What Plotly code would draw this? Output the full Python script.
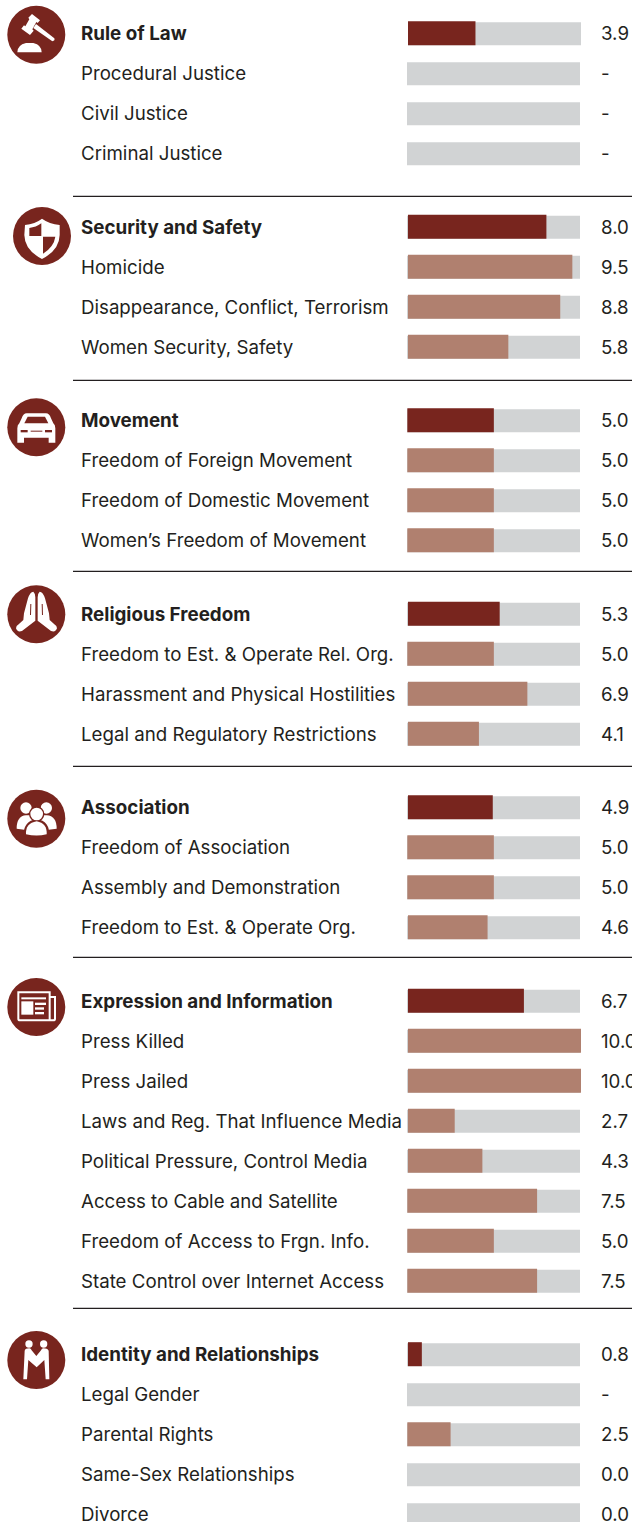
import re
import plotly.graph_objects as go

W, H = 632, 1522
FONT = "Inter"
SIZE = 18.7
BOLD_SIZE = 18.8
TEXT = "#231f20"
DARK = "#78251e"
LIGHT = "#b0806f"
GRAY = "#d1d3d4"
RULE = "#231f20"

# ---------- data ----------
labels_law = ["Rule of Law", "Procedural Justice", "Civil Justice", "Criminal Justice"]
values_law = [3.9, None, None, None]
labels_security = ["Security and Safety", "Homicide", "Disappearance, Conflict, Terrorism", "Women Security, Safety"]
values_security = [8.0, 9.5, 8.8, 5.8]
labels_movement = ["Movement", "Freedom of Foreign Movement", "Freedom of Domestic Movement", "Women’s Freedom of Movement"]
values_movement = [5.0, 5.0, 5.0, 5.0]
labels_religion = ["Religious Freedom", "Freedom to Est. & Operate Rel. Org.", "Harassment and Physical Hostilities", "Legal and Regulatory Restrictions"]
values_religion = [5.3, 5.0, 6.9, 4.1]
labels_association = ["Association", "Freedom of Association", "Assembly and Demonstration", "Freedom to Est. & Operate Org."]
values_association = [4.9, 5.0, 5.0, 4.6]
labels_expression = ["Expression and Information", "Press Killed", "Press Jailed", "Laws and Reg. That Influence Media",
                     "Political Pressure, Control Media", "Access to Cable and Satellite",
                     "Freedom of Access to Frgn. Info.", "State Control over Internet Access"]
values_expression = [6.7, 10.0, 10.0, 2.7, 4.3, 7.5, 5.0, 7.5]
labels_identity = ["Identity and Relationships", "Legal Gender", "Parental Rights", "Same-Sex Relationships", "Divorce"]
values_identity = [0.8, None, 2.5, 0.0, 0.0]

sections = [
    (labels_law, values_law), (labels_security, values_security), (labels_movement, values_movement),
    (labels_religion, values_religion), (labels_association, values_association),
    (labels_expression, values_expression), (labels_identity, values_identity),
]

# ---------- layout constants ----------
ROW = 40.0          # px per row
GAP = 33.5 / ROW    # extra rows between sections
TOP = 33.7          # px of first bar centre
X0, UNIT = 407.0, 17.3
PX = 1 / UNIT

rows = []
n = 0
for s, (labs, vals) in enumerate(sections):
    for i, (l, v) in enumerate(zip(labs, vals)):
        rows.append(dict(label=l, value=v, header=i == 0, pos=n + s * GAP, first=n == 0))
        n += 1

pos = [r["pos"] for r in rows]
full = [10.0] * len(rows)
gray_base = [PX if r["first"] else 0 for r in rows]
scored = [r for r in rows if r["value"] not in (None, 0.0)]
# bars of scores on an exact half point sit one pixel further left in the source
snap = lambda r: 0.02 if (r["value"] in (5.0, 7.5, 2.5)) else PX

fig = go.Figure()
fig.add_trace(go.Bar(orientation="h", y=pos, x=full, base=gray_base, width=23 / ROW,
                     marker=dict(color=GRAY, line=dict(width=0)), hoverinfo="skip"))
fig.add_trace(go.Bar(orientation="h",
                     y=[r["pos"] - 0.5 / ROW for r in scored],
                     x=[r["value"] for r in scored],
                     base=[snap(r) for r in scored],
                     width=24 / ROW,
                     marker=dict(color=[DARK if r["header"] else LIGHT for r in scored], line=dict(width=0)),
                     hoverinfo="skip"))

ann = []
for r in rows:
    y = r["pos"]
    ann.append(dict(xref="paper", x=80.3 / W, xanchor="left", yref="y", y=y, yanchor="middle", yshift=0.2,
                    text=f"<b>{r['label']}</b>" if r["header"] else r["label"], showarrow=False, borderpad=0,
                    align="left", font=dict(family=FONT, size=BOLD_SIZE if r["header"] else SIZE, color=TEXT)))
    t = "-" if r["value"] is None else f"{r['value']:.1f}"
    ann.append(dict(xref="paper", x=600 / W, xanchor="left", yref="y", y=y, yanchor="middle", yshift=0.2,
                    text=t, showarrow=False, borderpad=0, align="left",
                    font=dict(family=FONT, size=SIZE, color=TEXT)))


# ---------- decoration: rules and icons, drawn in pixel space ----------
def px(x, y):
    return x / W, 1 - y / H


def path(d, ox, oy, color="white", mirror=None):
    """Path written in 3x crop coordinates, origin (ox, oy)."""
    toks = re.findall(r"[MLQCZ]|-?\d+\.?\d*", d)
    out, i = [], 0
    while i < len(toks):
        t = toks[i]
        if t in "MLQCZ":
            out.append(t)
            i += 1
        else:
            zx = float(t)
            zy = float(toks[i + 1])
            if mirror is not None:
                zx = 2 * mirror - zx
            a, b = px(ox + zx / 3, oy + zy / 3)
            out.append(f"{a:.5f},{b:.5f}")
            i += 2
    return dict(type="path", xref="paper", yref="paper", path=" ".join(out),
                fillcolor=color, line=dict(width=0), layer="above")


def circle(cx, cy, r, color):
    x0, y0 = px(cx - r, cy - r)
    x1, y1 = px(cx + r, cy + r)
    return dict(type="circle", xref="paper", yref="paper", x0=x0, x1=x1, y0=y0, y1=y1,
                fillcolor=color, line=dict(width=0), layer="above")


def zcircle(zx, zy, zr, ox, oy, color="white"):
    return circle(ox + zx / 3, oy + zy / 3, zr / 3, color)


shapes = []
for y in [196, 380, 571, 766, 957, 1308]:
    a, b = px(73, y + 0.3)
    c, _ = px(W, y)
    shapes.append(dict(type="line", xref="paper", yref="paper", x0=a, x1=c, y0=b, y1=b,
                       line=dict(color=RULE, width=1.3), layer="above"))

for cx, cy in [(36.3, 34.7), (42, 236), (36.3, 427.2), (36.3, 614.3), (36.3, 818.7), (36.3, 1007), (36.3, 1360)]:
    shapes.append(circle(cx, cy, 29, DARK))

# gavel
shapes += [
    path("M96 42 L120 61 L113 69 L109 66 L97 88 L101 92 L90 105 L64 86 L72 76 L76 79 L88 58 L85 53 Z", 0, 0),
    path("M108 72 L163 115 Q166 122 157 124 L100 84 Z", 0, 0),
    path("M52 157 Q52 135 78 129 L100 129 Q125 135 125 157 Z", 0, 0),
]
# shield
shapes += [
    path("M75 675 Q105 672 126 656 Q148 672 179 675 L179 705 Q178 750 126 777 Q74 750 73 705 Z", 0, 0),
    path("M88 684 Q108 682 124 670 L124 708 L88 708 Z", 0, 0, DARK),
    path("M129 710 L166 710 Q162 740 129 761 Z", 0, 0, DARK),
]
# car
shapes += [
    path("M80 70 L138 70 Q148 70 153 85 L160 100 Q166 104 166 115 L166 158 L146 158 L146 143 L72 143 L72 158 L52 158 L52 115 Q52 104 58 100 L65 85 Q70 70 80 70 Z", 0, 390),
    path("M83 80 L135 80 L145 100 L73 100 Z", 0, 390, DARK),
    path("M62 120 L83 120 L83 127 L62 127 Z", 0, 390, DARK),
    path("M135 120 L156 120 L156 127 L135 127 Z", 0, 390, DARK),
    path("M92 122 L127 122 L127 125 L92 125 Z", 0, 390, DARK),
]
# praying hands
hand = "M100 605 Q106 610 106 622 L106 692 L66 723 Q52 728 48 715 Q48 708 56 703 L70 690 L72 670 L84 625 Q90 606 100 605 Z"
shapes += [
    path(hand, 0, 390),
    path(hand, 0, 390, mirror=109.5),
    path("M91 642 L94 642 L93 675 L90 675 Z", 0, 390, DARK),
    path("M91 642 L94 642 L93 675 L90 675 Z", 0, 390, DARK, mirror=109.5),
]
# group
shapes += [
    zcircle(78, 84, 17, 0, 780), zcircle(139, 84, 17, 0, 780),
    path("M50 146 Q50 108 78 106 L140 106 Q170 108 170 146 L140 150 L78 150 Z", 0, 780),
    zcircle(110, 102, 23, 0, 780, DARK),
    path("M70 170 Q70 122 110 118 Q150 122 148 170 Z", 0, 780, DARK),
    zcircle(110, 102, 19, 0, 780),
    path("M78 163 Q76 130 110 124 Q142 130 140 163 Q110 170 78 163 Z", 0, 780),
]
# newspaper
shapes += [
    path("M52 634 L152 634 L152 648 L168 648 L168 716 Q168 724 160 724 L60 724 Q52 724 52 716 Z", 0, 780),
    path("M58 640 L146 640 L146 718 L60 718 Q58 718 58 716 Z", 0, 780, DARK),
    path("M152 654 L162 654 L162 716 Q162 718 158 718 L152 718 Z", 0, 780, DARK),
    path("M64 652 L138 652 L138 658 L64 658 Z", 0, 780),
    path("M64 664 L100 664 L100 704 L64 704 Z", 0, 780),
    path("M105 668 L138 668 L138 675 L105 675 Z", 0, 780),
    path("M105 682 L132 682 L132 689 L105 689 Z", 0, 780),
    path("M105 696 L132 696 L132 703 L105 703 Z", 0, 780),
]
# people shaking hands
shapes += [
    zcircle(87, 72, 11, 0, 1320), zcircle(131, 72, 11, 0, 1320),
    path("M74 92 Q76 85 88 85 Q92 85 96 92 L109 108 L122 92 Q126 85 130 85 Q142 85 146 92 L148 178 L137 178 L133 120 L110 142 L85 120 L81 178 L70 178 Z", 0, 1320),
]

fig.update_layout(
    width=W, height=H, margin=dict(l=0, r=0, t=0, b=0), autosize=False,
    paper_bgcolor="white", plot_bgcolor="white", showlegend=False, barmode="overlay",
    xaxis=dict(visible=False, range=[-X0 / UNIT, (W - X0) / UNIT], fixedrange=True),
    yaxis=dict(visible=False, range=[(H - TOP) / ROW, -TOP / ROW], fixedrange=True),
    annotations=ann, shapes=shapes,
)
fig.write_html("out.html", config=dict(displayModeBar=False),
               post_script="document.body.style.margin='0';document.documentElement.style.overflow='hidden';")
